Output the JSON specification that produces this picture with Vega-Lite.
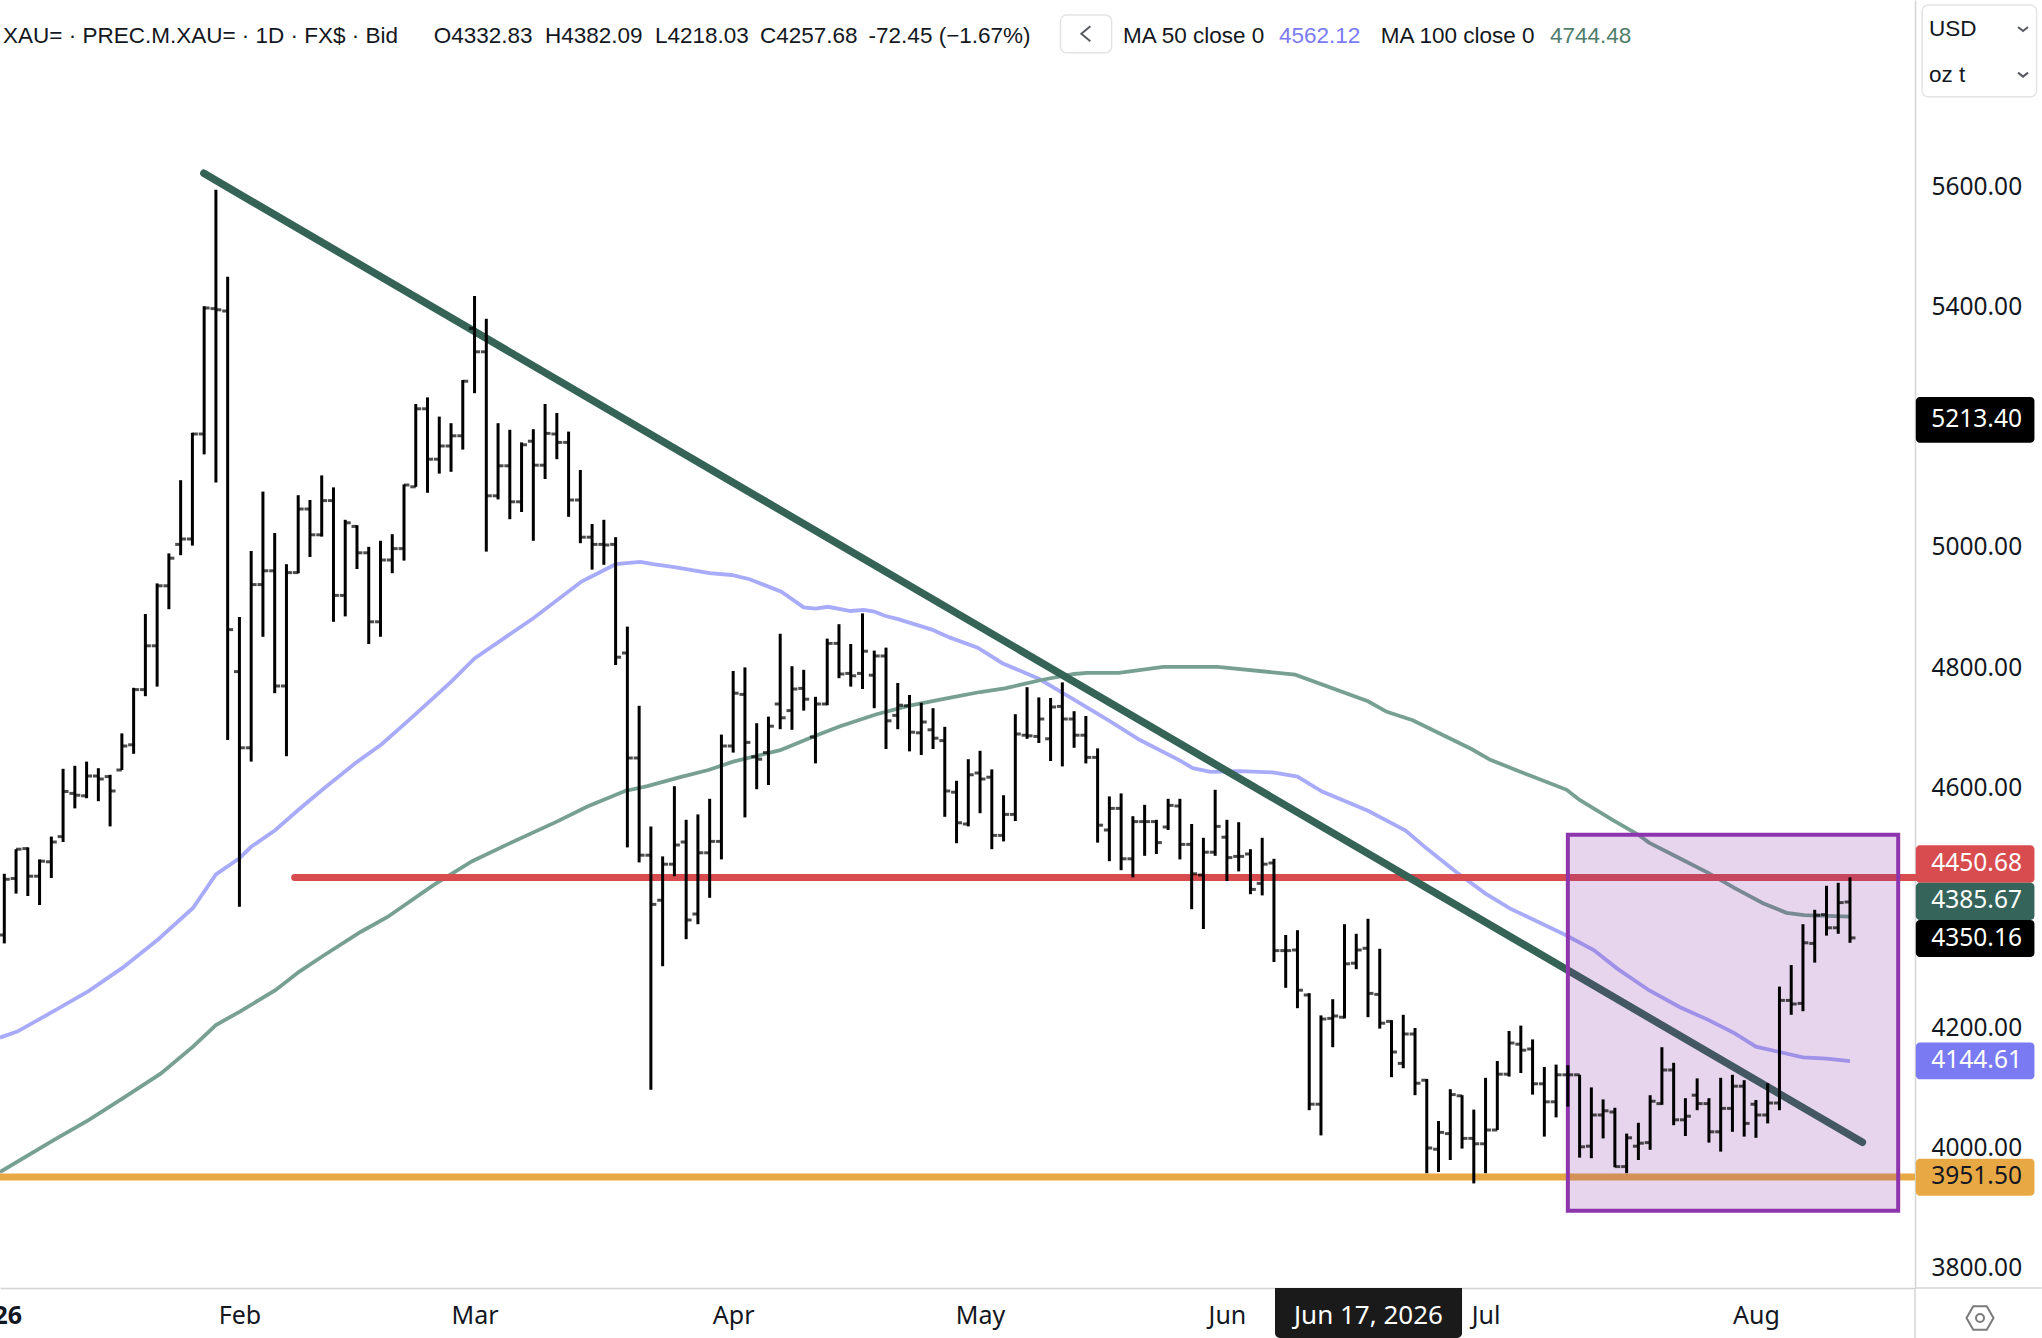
{
"$schema":"https://vega.github.io/schema/vega-lite/v6.json",
"background":"white",
"autosize":"none",
"padding":{"left":0,"top":0,"right":127,"bottom":50},
"width":1915,
"height":1288,
"config":{"view":{"stroke":null}},
"resolve":{"axis":{"x":"independent","y":"independent"},"scale":{"color":"independent"}},
"datasets":{
"bars":[
{"bar":0,"o":4355,"h":4457,"l":4341,"c":4448},{"bar":1,"o":4449,"h":4498,"l":4424,"c":4498},{"bar":2,"o":4499,"h":4501,"l":4420,"c":4453},{"bar":3,"o":4453,"h":4481,"l":4405,"c":4478},{"bar":4,"o":4477,"h":4519,"l":4450,"c":4510},
{"bar":5,"o":4519,"h":4632,"l":4510,"c":4594},{"bar":6,"o":4591,"h":4637,"l":4566,"c":4588},{"bar":7,"o":4587,"h":4644,"l":4583,"c":4620},{"bar":8,"o":4620,"h":4633,"l":4578,"c":4615},{"bar":9,"o":4619,"h":4622,"l":4536,"c":4595},
{"bar":10,"o":4630,"h":4691,"l":4630,"c":4670},{"bar":11,"o":4672,"h":4767,"l":4657,"c":4764},{"bar":12,"o":4764,"h":4890,"l":4753,"c":4837},{"bar":13,"o":4837,"h":4941,"l":4769,"c":4937},{"bar":14,"o":4937,"h":4991,"l":4898,"c":4983},
{"bar":15,"o":5006,"h":5113,"l":4988,"c":5015},{"bar":16,"o":5015,"h":5192,"l":5004,"c":5190},{"bar":17,"o":5190,"h":5403,"l":5156,"c":5400},{"bar":18,"o":5399,"h":5597,"l":5109,"c":5397},{"bar":19,"o":5395,"h":5452,"l":4680,"c":4864},
{"bar":20,"o":4794,"h":4885,"l":4402,"c":4667},{"bar":21,"o":4667,"h":4995,"l":4644,"c":4939},{"bar":22,"o":4939,"h":5094,"l":4852,"c":4962},{"bar":23,"o":4962,"h":5025,"l":4758,"c":4770},{"bar":24,"o":4770,"h":4973,"l":4653,"c":4959},
{"bar":25,"o":4959,"h":5088,"l":4958,"c":5065},{"bar":26,"o":5065,"h":5080,"l":4985,"c":5022},{"bar":27,"o":5022,"h":5121,"l":5019,"c":5079},{"bar":28,"o":5079,"h":5101,"l":4877,"c":4921},{"bar":29,"o":4921,"h":5047,"l":4886,"c":5042},
{"bar":30,"o":5036,"h":5038,"l":4965,"c":4992},{"bar":31,"o":4992,"h":5002,"l":4840,"c":4877},{"bar":32,"o":4877,"h":5012,"l":4852,"c":4980},{"bar":33,"o":4980,"h":5023,"l":4958,"c":4999},{"bar":34,"o":4999,"h":5106,"l":4979,"c":5105},
{"bar":35,"o":5102,"h":5240,"l":5102,"c":5232},{"bar":36,"o":5232,"h":5251,"l":5092,"c":5148},{"bar":37,"o":5148,"h":5219,"l":5124,"c":5170},{"bar":38,"o":5170,"h":5208,"l":5127,"c":5187},{"bar":39,"o":5187,"h":5280,"l":5164,"c":5278},
{"bar":40,"o":5366,"h":5420,"l":5258,"c":5327},{"bar":41,"o":5327,"h":5382,"l":4994,"c":5087},{"bar":42,"o":5087,"h":5208,"l":5081,"c":5137},{"bar":43,"o":5137,"h":5197,"l":5048,"c":5077},{"bar":44,"o":5077,"h":5176,"l":5060,"c":5172},
{"bar":45,"o":5178,"h":5198,"l":5012,"c":5138},{"bar":46,"o":5138,"h":5240,"l":5115,"c":5191},{"bar":47,"o":5190,"h":5225,"l":5148,"c":5176},{"bar":48,"o":5176,"h":5194,"l":5052,"c":5080},{"bar":49,"o":5080,"h":5130,"l":5008,"c":5018},
{"bar":50,"o":5018,"h":5040,"l":4964,"c":5006},{"bar":51,"o":5006,"h":5047,"l":4972,"c":5005},{"bar":52,"o":5006,"h":5018,"l":4805,"c":4818},{"bar":53,"o":4825,"h":4869,"l":4501,"c":4650},{"bar":54,"o":4650,"h":4737,"l":4476,"c":4488},
{"bar":55,"o":4488,"h":4536,"l":4097,"c":4406},{"bar":56,"o":4413,"h":4486,"l":4303,"c":4473},{"bar":57,"o":4473,"h":4603,"l":4453,"c":4505},{"bar":58,"o":4510,"h":4547,"l":4348,"c":4380},{"bar":59,"o":4390,"h":4556,"l":4373,"c":4492},
{"bar":60,"o":4492,"h":4582,"l":4417,"c":4511},{"bar":61,"o":4511,"h":4689,"l":4481,"c":4670},{"bar":62,"o":4670,"h":4795,"l":4659,"c":4758},{"bar":63,"o":4756,"h":4801,"l":4551,"c":4676},{"bar":64,"o":4652,"h":4708,"l":4598,"c":4648},
{"bar":65,"o":4659,"h":4719,"l":4605,"c":4703},{"bar":66,"o":4740,"h":4857,"l":4698,"c":4717},{"bar":67,"o":4729,"h":4803,"l":4697,"c":4765},{"bar":68,"o":4766,"h":4797,"l":4729,"c":4748},{"bar":69,"o":4685,"h":4752,"l":4641,"c":4740},
{"bar":70,"o":4740,"h":4849,"l":4738,"c":4841},{"bar":71,"o":4841,"h":4873,"l":4783,"c":4790},{"bar":72,"o":4791,"h":4840,"l":4769,"c":4787},{"bar":73,"o":4791,"h":4891,"l":4765,"c":4828},{"bar":74,"o":4788,"h":4829,"l":4733,"c":4820},
{"bar":75,"o":4820,"h":4834,"l":4665,"c":4712},{"bar":76,"o":4721,"h":4775,"l":4698,"c":4738},{"bar":77,"o":4737,"h":4755,"l":4661,"c":4693},{"bar":78,"o":4692,"h":4742,"l":4655,"c":4710},{"bar":79,"o":4697,"h":4733,"l":4665,"c":4683},
{"bar":80,"o":4679,"h":4702,"l":4552,"c":4595},{"bar":81,"o":4593,"h":4612,"l":4508,"c":4542},{"bar":82,"o":4540,"h":4648,"l":4536,"c":4622},{"bar":83,"o":4625,"h":4662,"l":4558,"c":4615},{"bar":84,"o":4618,"h":4631,"l":4498,"c":4521},
{"bar":85,"o":4521,"h":4588,"l":4511,"c":4556},{"bar":86,"o":4556,"h":4723,"l":4545,"c":4690},{"bar":87,"o":4688,"h":4768,"l":4682,"c":4687},{"bar":88,"o":4686,"h":4751,"l":4675,"c":4715},{"bar":89,"o":4682,"h":4750,"l":4645,"c":4735},
{"bar":90,"o":4736,"h":4776,"l":4636,"c":4715},{"bar":91,"o":4715,"h":4728,"l":4667,"c":4688},{"bar":92,"o":4688,"h":4720,"l":4641,"c":4651},{"bar":93,"o":4651,"h":4666,"l":4509,"c":4538},{"bar":94,"o":4530,"h":4586,"l":4478,"c":4566},
{"bar":95,"o":4566,"h":4591,"l":4463,"c":4482},{"bar":96,"o":4482,"h":4553,"l":4451,"c":4544},{"bar":97,"o":4544,"h":4572,"l":4487,"c":4544},{"bar":98,"o":4544,"h":4547,"l":4490,"c":4509},{"bar":99,"o":4535,"h":4582,"l":4530,"c":4571},
{"bar":100,"o":4570,"h":4582,"l":4481,"c":4506},{"bar":101,"o":4506,"h":4540,"l":4398,"c":4457},{"bar":102,"o":4455,"h":4517,"l":4365,"c":4493},{"bar":103,"o":4493,"h":4597,"l":4487,"c":4536},{"bar":104,"o":4518,"h":4547,"l":4445,"c":4484},
{"bar":105,"o":4486,"h":4543,"l":4461,"c":4486},{"bar":106,"o":4490,"h":4498,"l":4423,"c":4431},{"bar":107,"o":4441,"h":4517,"l":4421,"c":4473},{"bar":108,"o":4475,"h":4482,"l":4310,"c":4329},{"bar":109,"o":4329,"h":4355,"l":4267,"c":4329},
{"bar":110,"o":4330,"h":4363,"l":4233,"c":4263},{"bar":111,"o":4255,"h":4258,"l":4063,"c":4073},{"bar":112,"o":4073,"h":4221,"l":4021,"c":4215},{"bar":113,"o":4216,"h":4248,"l":4168,"c":4220},{"bar":114,"o":4218,"h":4373,"l":4216,"c":4307},
{"bar":115,"o":4308,"h":4357,"l":4298,"c":4330},{"bar":116,"o":4332.83,"h":4382.09,"l":4218.03,"c":4257.68},{"bar":117,"o":4256,"h":4332,"l":4199,"c":4208},{"bar":118,"o":4211,"h":4213,"l":4118,"c":4160},{"bar":119,"o":4141,"h":4222,"l":4133,"c":4190},
{"bar":120,"o":4190,"h":4200,"l":4088,"c":4108},{"bar":121,"o":4113,"h":4115,"l":3958,"c":4000},{"bar":122,"o":3998,"h":4045,"l":3960,"c":4026},{"bar":123,"o":4024,"h":4098,"l":3980,"c":4089},{"bar":124,"o":4087,"h":4088,"l":3999,"c":4016},
{"bar":125,"o":4016,"h":4064,"l":3941,"c":4007},{"bar":126,"o":4007,"h":4117,"l":3958,"c":4030},{"bar":127,"o":4030,"h":4145,"l":4030,"c":4123},{"bar":128,"o":4123,"h":4195,"l":4119,"c":4175},{"bar":129,"o":4173,"h":4204,"l":4125,"c":4163},
{"bar":130,"o":4165,"h":4181,"l":4089,"c":4107},{"bar":131,"o":4107,"h":4135,"l":4019,"c":4077},{"bar":132,"o":4077,"h":4139,"l":4051,"c":4122},{"bar":133,"o":4122,"h":4138,"l":4069,"c":4122},{"bar":134,"o":4122,"h":4122,"l":3984,"c":4002},
{"bar":135,"o":4003,"h":4101,"l":3983,"c":4055},{"bar":136,"o":4055,"h":4081,"l":4016,"c":4062},{"bar":137,"o":4060,"h":4067,"l":3968,"c":3969},{"bar":138,"o":3969,"h":4024,"l":3958,"c":4017},{"bar":139,"o":4003,"h":4042,"l":3980,"c":4008},
{"bar":140,"o":4009,"h":4088,"l":3997,"c":4078},{"bar":141,"o":4074,"h":4168,"l":4072,"c":4130},{"bar":142,"o":4130,"h":4142,"l":4038,"c":4047},{"bar":143,"o":4047,"h":4083,"l":4020,"c":4053},{"bar":144,"o":4088,"h":4116,"l":4063,"c":4074},
{"bar":145,"o":4074,"h":4083,"l":4009,"c":4027},{"bar":146,"o":4027,"h":4117,"l":3994,"c":4066},{"bar":147,"o":4066,"h":4122,"l":4027,"c":4103},{"bar":148,"o":4103,"h":4113,"l":4019,"c":4041},{"bar":149,"o":4073,"h":4080,"l":4017,"c":4055},
{"bar":150,"o":4055,"h":4108,"l":4041,"c":4075},{"bar":151,"o":4075,"h":4269,"l":4063,"c":4246},{"bar":152,"o":4246,"h":4305,"l":4222,"c":4240},{"bar":153,"o":4241,"h":4373,"l":4228,"c":4342},{"bar":154,"o":4341,"h":4397,"l":4309,"c":4388},
{"bar":155,"o":4389,"h":4437,"l":4354,"c":4367},{"bar":156,"o":4367,"h":4442,"l":4357,"c":4409},{"bar":157,"o":4410,"h":4451,"l":4342,"c":4350.16}
],
"ma50":[
{"bar":-0.37,"v":4184},{"bar":1.1,"v":4194},{"bar":4.2,"v":4228},{"bar":7.2,"v":4262},{"bar":10.1,"v":4301},{"bar":13.1,"v":4348},{"bar":16.05,"v":4400},{"bar":18,"v":4456},{"bar":20,"v":4483},{"bar":21,"v":4502},{"bar":23.06,"v":4530},{"bar":25.1,"v":4565},{"bar":27.1,"v":4598},{"bar":29.9,"v":4642},{"bar":32.1,"v":4673},{"bar":34.7,"v":4718},{"bar":38,"v":4777},{"bar":40,"v":4816},{"bar":45,"v":4883},{"bar":49.1,"v":4944},{"bar":52,"v":4973},{"bar":54.1,"v":4977},{"bar":55.2,"v":4973},{"bar":57,"v":4968},{"bar":60,"v":4958},{"bar":61.85,"v":4955},{"bar":63.4,"v":4948},{"bar":66.1,"v":4927},{"bar":68,"v":4901},{"bar":69,"v":4899},{"bar":70.06,"v":4902},{"bar":72,"v":4895},{"bar":73.1,"v":4897},{"bar":74,"v":4894},{"bar":74.9,"v":4887},{"bar":76.1,"v":4881},{"bar":78.9,"v":4864},{"bar":80.4,"v":4851},{"bar":82.8,"v":4834},{"bar":84.9,"v":4808},{"bar":88,"v":4782},{"bar":90.6,"v":4752},{"bar":93.9,"v":4713},{"bar":96.6,"v":4680},{"bar":99.9,"v":4647},{"bar":101.1,"v":4633},{"bar":102.6,"v":4627},{"bar":105.1,"v":4628},{"bar":107.9,"v":4626},{"bar":110,"v":4619},{"bar":112.1,"v":4594},{"bar":116,"v":4562.12},{"bar":119.2,"v":4529},{"bar":121,"v":4499},{"bar":123.5,"v":4460},{"bar":126,"v":4424},{"bar":128.1,"v":4399},{"bar":132.8,"v":4355},{"bar":135.2,"v":4330},{"bar":137.2,"v":4299},{"bar":139.9,"v":4263},{"bar":142.5,"v":4235},{"bar":144.9,"v":4214},{"bar":147.2,"v":4191},{"bar":149,"v":4169},{"bar":151,"v":4160},{"bar":153,"v":4151},{"bar":155,"v":4149},{"bar":157,"v":4144.61}
],
"ma100":[
{"bar":-0.37,"v":3960},{"bar":4.2,"v":4013},{"bar":7.2,"v":4047},{"bar":10.1,"v":4083},{"bar":13.3,"v":4124},{"bar":16.05,"v":4169},{"bar":18,"v":4205},{"bar":20,"v":4227},{"bar":23.06,"v":4263},{"bar":25.1,"v":4294},{"bar":27.1,"v":4320},{"bar":30.3,"v":4360},{"bar":32.6,"v":4385},{"bar":36.5,"v":4438},{"bar":39.8,"v":4478},{"bar":42.8,"v":4506},{"bar":47,"v":4544},{"bar":49.6,"v":4569},{"bar":52.8,"v":4595},{"bar":54.7,"v":4603},{"bar":57.5,"v":4618},{"bar":59.9,"v":4630},{"bar":62,"v":4644},{"bar":66,"v":4663},{"bar":69,"v":4687},{"bar":71.1,"v":4703},{"bar":74.2,"v":4723},{"bar":76.9,"v":4737},{"bar":80.6,"v":4751},{"bar":83,"v":4760},{"bar":85.1,"v":4766},{"bar":88.2,"v":4780},{"bar":91,"v":4790},{"bar":92.1,"v":4792},{"bar":94.8,"v":4792},{"bar":98.6,"v":4802},{"bar":103.2,"v":4802},{"bar":109.8,"v":4789},{"bar":116,"v":4744.48},{"bar":117.6,"v":4727},{"bar":119.8,"v":4713},{"bar":124.8,"v":4665},{"bar":126.4,"v":4647},{"bar":130,"v":4619},{"bar":132.9,"v":4597},{"bar":134,"v":4580},{"bar":136.8,"v":4547},{"bar":139,"v":4522},{"bar":139.9,"v":4509},{"bar":142.5,"v":4483},{"bar":144.9,"v":4459},{"bar":147.2,"v":4433},{"bar":149.6,"v":4408},{"bar":151.6,"v":4392},{"bar":153.1,"v":4388},{"bar":157,"v":4385.67}
],
"tags":[
{"name":"resistance","label":"4450.68","top":4504.4,"bottom":4442.2,"mid":4473},
{"name":"ma100","label":"4385.67","top":4442.2,"bottom":4380,"mid":4411},
{"name":"last","label":"4350.16","top":4380,"bottom":4318.3,"mid":4349},
{"name":"ma50","label":"4144.61","top":4176,"bottom":4114.5,"mid":4145},
{"name":"support","label":"3951.50","top":3982.2,"bottom":3920.5,"mid":3951},
{"name":"last","label":"5213.40","top":5251.7,"bottom":5175.5,"mid":5213.4}
],
"header":[
{"bar":-0.11,"v":5854,"text":"XAU= · PREC.M.XAU= · 1D · FX$ · Bid","kind":"plain"},
{"bar":36.53,"v":5854,"text":"O4332.83","kind":"plain"},
{"bar":45.99,"v":5854,"text":"H4382.09","kind":"plain"},
{"bar":55.35,"v":5854,"text":"L4218.03","kind":"plain"},
{"bar":64.28,"v":5854,"text":"C4257.68","kind":"plain"},
{"bar":73.52,"v":5854,"text":"-72.45 (−1.67%)","kind":"plain"},
{"bar":95.16,"v":5854,"text":"MA 50 close 0","kind":"plain"},
{"bar":108.43,"v":5854,"text":"4562.12","kind":"ma50"},
{"bar":117.08,"v":5854,"text":"MA 100 close 0","kind":"plain"},
{"bar":131.48,"v":5854,"text":"4744.48","kind":"ma100"},
{"bar":163.72,"v":5865,"text":"USD","kind":"plain"},
{"bar":163.72,"v":5789,"text":"oz t","kind":"plain"}
]
},
"layer":[
{"data":{"name":"ma50"},"mark":{"type":"line","color":"#a8aafa","strokeWidth":3.8},
 "encoding":{
  "x":{"field":"bar","type":"quantitative","title":null,"scale":{"domain":[-0.366,162.53],"nice":false,"zero":false},
   "axis":{"values":[20,40,62,83,104,126,149],"labelExpr":"datum.value==20?'Feb':datum.value==40?'Mar':datum.value==62?'Apr':datum.value==83?'May':datum.value==104?'Jun':datum.value==126?'Jul':'Aug'","grid":false,"ticks":false,"labelFont":"Noto Sans","labelFontSize":25,"labelColor":"#131722","labelBaseline":"middle","labelPadding":27,"labelFlush":false,"labelOverlap":false,"labelBound":false,"domainColor":"#d4d4d4","domainWidth":1.5}},
  "y":{"field":"v","type":"quantitative","title":null,"scale":{"domain":[3766.67,5913.33],"nice":false,"zero":false},
   "axis":{"orient":"right","values":[3800,4000,4200,4600,4800,5000,5400,5600],"format":".2f","grid":false,"ticks":false,"labelFont":"Noto Sans","labelFontSize":24.5,"labelColor":"#131722","labelPadding":16,"labelFlush":false,"labelOverlap":false,"labelBound":false,"domainColor":"#d4d4d4","domainWidth":1.5}}
 }},
{"data":{"name":"ma100"},"mark":{"type":"line","color":"#77a092","strokeWidth":3.8},
 "encoding":{"x":{"field":"bar","type":"quantitative","axis":null},"y":{"field":"v","type":"quantitative","axis":null}}},
{"data":{"values":[{"bar":-0.366,"v":3951.5},{"bar":162.53,"v":3951.5}]},"mark":{"type":"line","color":"#e8a945","strokeWidth":7},
 "encoding":{"x":{"field":"bar","type":"quantitative","axis":null},"y":{"field":"v","type":"quantitative","axis":null}}},
{"data":{"values":[{"bar":24.7,"v":4450.68},{"bar":162.53,"v":4450.68}]},"mark":{"type":"line","color":"#d84c4f","strokeWidth":7,"strokeCap":"round"},
 "encoding":{"x":{"field":"bar","type":"quantitative","axis":null},"y":{"field":"v","type":"quantitative","axis":null}}},
{"data":{"values":[{"bar":16.97,"v":5624.5},{"bar":158.05,"v":4009.5}]},"mark":{"type":"line","color":"#356355","strokeWidth":7.5,"strokeCap":"round"},
 "encoding":{"x":{"field":"bar","type":"quantitative","axis":null},"y":{"field":"v","type":"quantitative","axis":null}}},
{"data":{"values":[{"left":133,"right":161.1,"top":4522,"bottom":3895.5}]},"mark":{"type":"rect","fill":"#822da0","fillOpacity":0.2,"stroke":"#8e35ae","strokeWidth":4},
 "encoding":{"x":{"field":"left","type":"quantitative","axis":null},"x2":{"field":"right"},"y":{"field":"top","type":"quantitative","axis":null},"y2":{"field":"bottom"}}},
{"data":{"name":"bars"},"mark":{"type":"rule","color":"#000000","strokeWidth":3},
 "encoding":{"x":{"field":"bar","type":"quantitative","axis":null},"y":{"field":"h","type":"quantitative","axis":null},"y2":{"field":"l"}}},
{"data":{"name":"bars"},"mark":{"type":"tick","orient":"horizontal","color":"#000000","size":5.5,"thickness":3,"xOffset":-2.7},
 "encoding":{"x":{"field":"bar","type":"quantitative","axis":null},"y":{"field":"o","type":"quantitative","axis":null}}},
{"data":{"name":"bars"},"mark":{"type":"tick","orient":"horizontal","color":"#000000","size":5.5,"thickness":3,"xOffset":2.7},
 "encoding":{"x":{"field":"bar","type":"quantitative","axis":null},"y":{"field":"c","type":"quantitative","axis":null}}},
{"data":{"values":[{"bar":162.53,"top":3766.67,"bottom":3683.33}]},"mark":{"type":"rule","color":"#d4d4d4","strokeWidth":1.5},
 "encoding":{"x":{"field":"bar","type":"quantitative","axis":null},"y":{"field":"top","type":"quantitative","axis":null},"y2":{"field":"bottom"}}},
{"data":{"values":[{"left":162.53,"right":173.33,"v":3766.67}]},"mark":{"type":"rule","color":"#d4d4d4","strokeWidth":1.5},
 "encoding":{"x":{"field":"left","type":"quantitative","axis":null},"x2":{"field":"right"},"y":{"field":"v","type":"quantitative","axis":null}}},
{"data":{"name":"tags"},"mark":{"type":"rect","cornerRadius":4},
 "encoding":{"x":{"datum":162.6,"type":"quantitative","axis":null},"x2":{"datum":172.69},"y":{"field":"top","type":"quantitative","axis":null},"y2":{"field":"bottom"},
  "color":{"field":"name","type":"nominal","legend":null,"scale":{"domain":["resistance","ma100","last","ma50","support"],"range":["#d84c4f","#35645a","#000000","#7a7bf3","#e8a945"]}}}},
{"data":{"name":"tags"},"mark":{"type":"text","font":"Noto Sans","fontSize":24.5,"align":"center","baseline":"middle"},
 "encoding":{"x":{"datum":167.77,"type":"quantitative","axis":null},"y":{"field":"mid","type":"quantitative","axis":null},"text":{"field":"label"},
  "color":{"condition":{"test":"datum.name=='support'","value":"#131722"},"value":"#ffffff"}}},
{"data":{"values":[{"bar":-0.92,"v":3720,"label":"2026"}]},"mark":{"type":"text","font":"Noto Sans","fontSize":25,"fontWeight":"bold","color":"#131722","align":"center","baseline":"middle"},
 "encoding":{"x":{"field":"bar","type":"quantitative","axis":null},"y":{"field":"v","type":"quantitative","axis":null},"text":{"field":"label"}}},
{"data":{"values":[{"left":108.09,"right":124,"top":3766.67,"bottom":3683.33}]},"mark":{"type":"rect","color":"#1a1a1a","cornerRadiusBottomLeft":5,"cornerRadiusBottomRight":5},
 "encoding":{"x":{"field":"left","type":"quantitative","axis":null},"x2":{"field":"right"},"y":{"field":"top","type":"quantitative","axis":null},"y2":{"field":"bottom"}}},
{"data":{"values":[{"bar":116.04,"v":3720,"label":"Jun 17, 2026"}]},"mark":{"type":"text","font":"Noto Sans","fontSize":26,"color":"#ffffff","align":"center","baseline":"middle"},
 "encoding":{"x":{"field":"bar","type":"quantitative","axis":null},"y":{"field":"v","type":"quantitative","axis":null},"text":{"field":"label"}}},
{"data":{"values":[{"left":89.84,"right":94.19,"top":5888.3,"bottom":5825.5},{"left":163.13,"right":172.87,"top":5905,"bottom":5752.2}]},"mark":{"type":"rect","fill":"#ffffff","stroke":"#e3e3e3","strokeWidth":1.5,"cornerRadius":6},
 "encoding":{"x":{"field":"left","type":"quantitative","axis":null},"x2":{"field":"right"},"y":{"field":"top","type":"quantitative","axis":null},"y2":{"field":"bottom"}}},
{"data":{"name":"header"},"mark":{"type":"text","font":"Liberation Sans","fontSize":22.5,"align":"left","baseline":"middle"},
 "encoding":{"x":{"field":"bar","type":"quantitative","axis":null},"y":{"field":"v","type":"quantitative","axis":null},"text":{"field":"text"},
  "color":{"field":"kind","type":"nominal","legend":null,"scale":{"domain":["plain","ma50","ma100"],"range":["#131722","#7a7bf3","#4e7d6c"]}}}},
{"data":{"values":[{"bar":92,"v":5857}]},"mark":{"type":"point","shape":"M0.6,-1L-0.6,0L0.6,1","size":225,"filled":false,"stroke":"#131722","strokeWidth":2},
 "encoding":{"x":{"field":"bar","type":"quantitative","axis":null},"y":{"field":"v","type":"quantitative","axis":null}}},
{"data":{"values":[{"bar":171.72,"v":5865},{"bar":171.72,"v":5789}]},"mark":{"type":"point","shape":"M-1,-0.4L0,0.4L1,-0.4","size":100,"filled":false,"stroke":"#131722","strokeWidth":2},
 "encoding":{"x":{"field":"bar","type":"quantitative","axis":null},"y":{"field":"v","type":"quantitative","axis":null}}},
{"data":{"values":[{"bar":168.06,"v":3716.7}]},"mark":{"type":"point","shape":"M-1,0L-0.5,-0.87L0.5,-0.87L1,0L0.5,0.87L-0.5,0.87Z","size":729,"filled":false,"stroke":"#444444","strokeWidth":2},
 "encoding":{"x":{"field":"bar","type":"quantitative","axis":null},"y":{"field":"v","type":"quantitative","axis":null}}},
{"data":{"values":[{"bar":168.06,"v":3716.7}]},"mark":{"type":"point","shape":"circle","size":64,"filled":false,"stroke":"#444444","strokeWidth":2},
 "encoding":{"x":{"field":"bar","type":"quantitative","axis":null},"y":{"field":"v","type":"quantitative","axis":null}}}
]
}
